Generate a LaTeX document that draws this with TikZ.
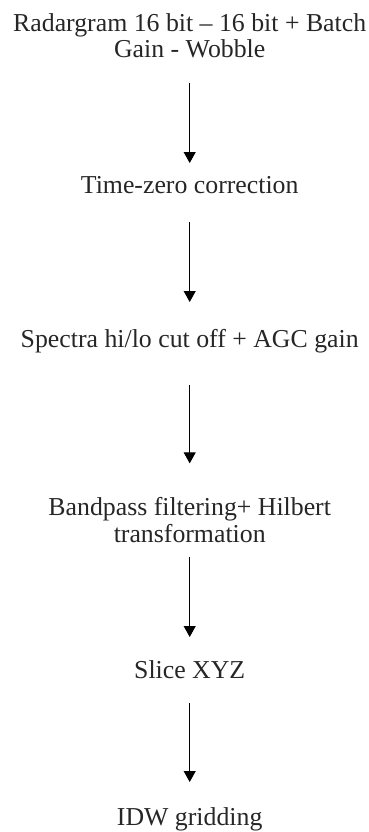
\documentclass[tikz,border=0pt]{standalone}
\usepackage{fontspec}
\setmainfont{Liberation Serif}
\usetikzlibrary{arrows.meta}
\begin{document}
\begin{tikzpicture}[x=1pt,y=1pt,
  txt/.style={inner sep=0pt,outer sep=0pt,anchor=base,font=\fontsize{25.8}{26.5}\selectfont,text=black!85},
  one/.style={txt,text height=17pt,text depth=5.5pt},
  two/.style={txt,align=center},
  arr/.style={line width=1pt,-{Triangle[length=11pt,width=12pt]}}]
\useasboundingbox (0,0) rectangle (369,-832);
\node[two] (raw) at (189.7,-58) {Radargram 16 bit -- 16 bit + Batch\\Gain - Wobble};
\node[one] (tz) at (189.7,-193) {Time-zero correction};
\node[one] (sp) at (189.7,-347) {Spectra hi/lo cut off + AGC gain};
\node[two] (bp) at (189.7,-542) {Bandpass filtering+ Hilbert\\transformation};
\node[one] (sl) at (189.7,-678) {Slice XYZ};
\node[one] (idw) at (189.7,-825) {IDW gridding};
\draw[arr,shorten <=25pt,shorten >=13pt] (raw.south) -- (tz.north);
\draw[arr,shorten <=23.5pt,shorten >=28pt] (tz.south) -- (sp.north);
\draw[arr,shorten <=32.5pt,shorten >=34pt] (sp.south) -- (bp.north);
\draw[arr,shorten <=15pt,shorten >=24pt] (bp.south) -- (sl.north);
\draw[arr,shorten <=19.5pt,shorten >=26pt] (sl.south) -- (idw.north);
\end{tikzpicture}
\end{document}
